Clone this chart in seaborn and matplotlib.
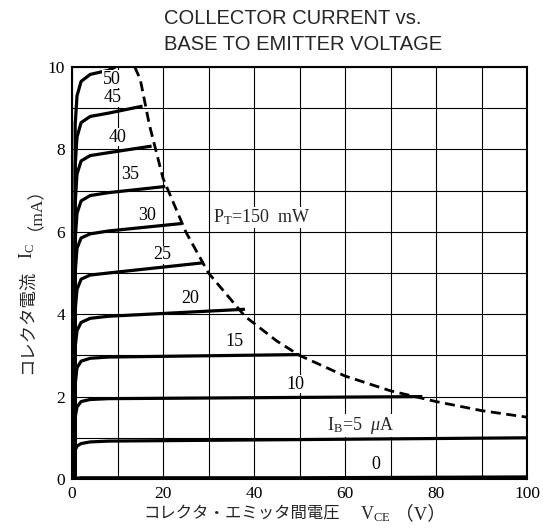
import matplotlib
matplotlib.use("Agg")
import matplotlib.pyplot as plt
import seaborn as sns
import pandas as pd

# ---- data ----
ib_labels = ["0", "5", "10", "15", "20", "25", "30", "35", "40", "45", "50"]
vce_knee = [0.7, 0.7, 1.1, 2.0, 4.0, 8.0]
ic_ib0 = [0.0, 0.02, 0.03, 0.03, 0.03, 0.03, 0.05]
ic_ib5 = [0.0, 0.70, 0.80, 0.86, 0.90, 0.92, 1.00]
ic_ib10 = [0.0, 1.50, 1.75, 1.88, 1.93, 1.95, 2.00]
ic_ib15 = [0.0, 2.30, 2.70, 2.86, 2.93, 2.96, 3.02]
ic_ib20 = [0.0, 3.20, 3.60, 3.80, 3.90, 3.95, 4.12]
ic_ib25 = [0.0, 4.10, 4.60, 4.85, 4.95, 5.00, 5.25]
ic_ib30 = [0.0, 5.00, 5.60, 5.85, 5.95, 6.02, 6.20]
ic_ib35 = [0.0, 5.80, 6.45, 6.75, 6.88, 6.95, 7.10]
ic_ib40 = [0.0, 6.70, 7.40, 7.72, 7.85, 7.92, 8.08]
ic_ib45 = [0.0, 7.60, 8.30, 8.65, 8.80, 8.88, 9.05]
ic_ib50 = [0.0, 8.60, 9.30, 9.65, 9.82, 9.92, 10.0]
vce_end = [100, 100, 77, 50, 38, 29, 24, 20.5, 17.5, 15.5, 9.5]
curves_ic = [ic_ib0, ic_ib5, ic_ib10, ic_ib15, ic_ib20, ic_ib25,
             ic_ib30, ic_ib35, ic_ib40, ic_ib45, ic_ib50]

# curve label positions (VCE, IC)
lab_x = [66.7, None, 49, 35.8, 26, 19.8, 16.4, 12.7, 10, 9, 8.7]
lab_y = [0.34, None, 2.3, 3.33, 4.37, 5.44, 6.4, 7.38, 8.3, 9.25, 9.7]

# PT = 150 mW limit curve
pt_v = [13.8, 15, 17, 20, 25, 30, 38, 45, 50, 60, 70, 80, 90, 100]
pt_i = [10.0, 9.7, 8.6, 7.3, 6.0, 5.0, 3.95, 3.35, 3.0, 2.5, 2.14, 1.88, 1.66, 1.5]

x_ticks = [0, 20, 40, 60, 80, 100]
y_ticks = [0, 2, 4, 6, 8, 10]

# ---- build long-form table ----
rows = []
for lab, ics, vend in zip(ib_labels, curves_ic, vce_end):
    vs = vce_knee + [vend]
    if lab == "0":
        vs = [0.7, 1, 2, 4, 8, 50, vend]
    for order, (v, i) in enumerate(zip(vs, ics)):
        rows.append({"ib": lab, "vce": v, "ic": i, "order": order})
df = pd.DataFrame(rows)
pt_df = pd.DataFrame({"vce": pt_v, "ic": pt_i})

sns.set_theme(style="white")
plt.rcParams["font.family"] = ["Liberation Serif", "Noto Sans CJK JP", "DejaVu Sans"]
plt.rcParams["mathtext.fontset"] = "custom"
plt.rcParams["mathtext.rm"] = "Liberation Serif"
plt.rcParams["mathtext.it"] = "Liberation Serif:italic"

fig = plt.figure(figsize=(5.43, 5.30), dpi=100)
ax = fig.add_axes([72 / 543, 1 - 479 / 530, (527 - 72) / 543, (479 - 67) / 530])

for lab in ib_labels:
    sub = df[df["ib"] == lab].sort_values("order")
    sns.lineplot(data=sub, x="vce", y="ic", sort=False, color="black",
                 linewidth=2.3, ax=ax, legend=False, estimator=None,
                 solid_capstyle="butt", zorder=4)

sns.lineplot(data=pt_df, x="vce", y="ic", sort=False, color="black",
             linewidth=2.0, ax=ax, legend=False, estimator=None, zorder=4)
ax.lines[-1].set_dashes([3.6, 2.0])

ax.set_xlim(0, 100)
ax.set_ylim(0, 10)
ax.set_xticks(range(0, 101, 10))
ax.set_yticks(range(0, 11, 1))
ax.grid(True, color="black", linewidth=0.8, zorder=1)
ax.set_xticklabels([str(t) if t in x_ticks else "" for t in range(0, 101, 10)])
ax.set_yticklabels([str(t) if t in y_ticks else "" for t in range(0, 11, 1)])
ax.tick_params(axis="both", length=0, labelsize=12.5, pad=5, colors="black")
for s in ax.spines.values():
    s.set_color("black")
    s.set_linewidth(1.5)
ax.set_xlabel("")
ax.set_ylabel("")

for lab, x, y in zip(ib_labels, lab_x, lab_y):
    if x is None:
        continue
    ax.text(x, y, lab, ha="center", va="center", fontsize=13,
            color="black", zorder=5,
            bbox=dict(facecolor="white", edgecolor="none", pad=0.2))

ax.text(56, 1.3, r"I$_{\mathrm{B}}$=5  $\mu$A", ha="left", va="center",
        fontsize=13, zorder=5,
        bbox=dict(facecolor="white", edgecolor="none", pad=0.5))
ax.text(31, 6.35, r"P$_{\mathrm{T}}$=150  mW", ha="left", va="center",
        fontsize=13, zorder=5,
        bbox=dict(facecolor="white", edgecolor="none", pad=0.5))

# title
fig.text(164 / 543, 1 - 18 / 530, "COLLECTOR CURRENT vs.", ha="left",
         va="center", fontsize=14.5, family="Liberation Sans")
fig.text(164 / 543, 1 - 44 / 530, "BASE TO EMITTER VOLTAGE", ha="left",
         va="center", fontsize=14.5, family="Liberation Sans")

# x label
fig.text(143 / 543, 1 - 514 / 530, "コレクタ・エミッタ間電圧", ha="left",
         va="center", fontsize=11.8, family=["Noto Sans CJK JP"])
fig.text(360 / 543, 1 - 514 / 530, r"V$_{\mathrm{CE}}$", ha="left",
         va="center", fontsize=13)
fig.text(395 / 543, 1 - 514 / 530, "（V）", ha="left",
         va="center", fontsize=13.5,
         family=["Liberation Serif", "Noto Sans CJK JP"])

# y label
fig.text(27 / 543, 1 - 322 / 530, "コレクタ電流", ha="center", va="center",
         rotation=90, fontsize=12.5, family=["Noto Sans CJK JP"])
fig.text(27 / 543, 1 - 251 / 530, r"I$_{\mathrm{C}}$", ha="center",
         va="center", rotation=90, fontsize=13)
fig.text(27 / 543, 1 - 200 / 530, "（mA）", ha="center",
         va="center", rotation=90, fontsize=12.5,
         family=["Liberation Serif", "Noto Sans CJK JP"])

fig.savefig("out.png", dpi=100)
